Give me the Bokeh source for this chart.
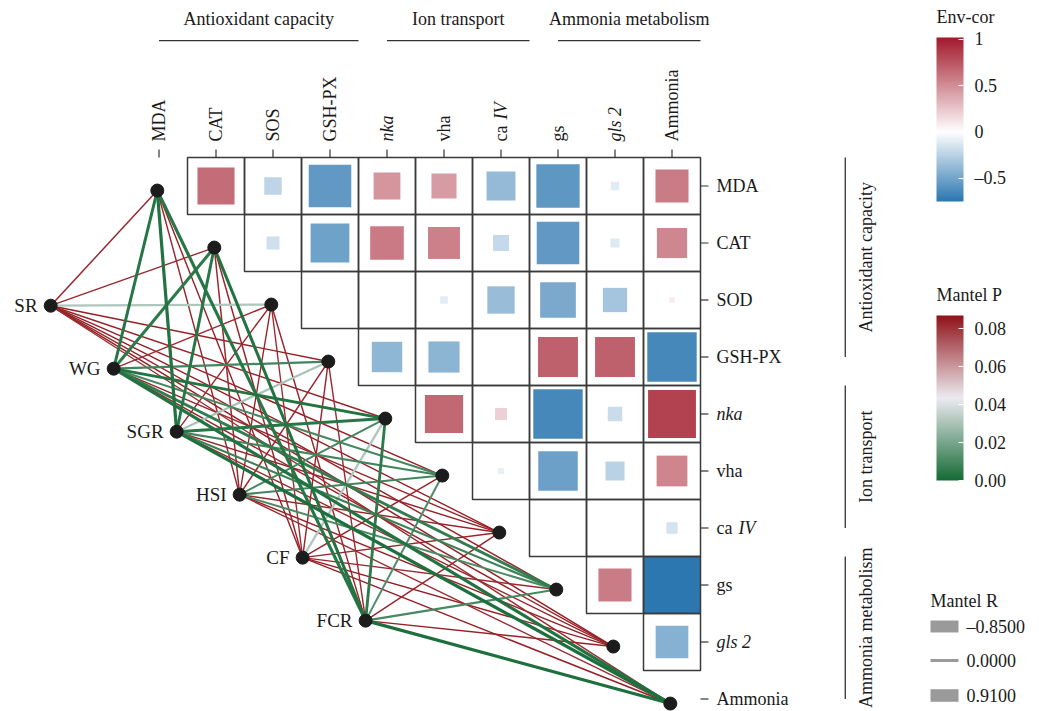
import numpy as np
from bokeh.plotting import figure
from bokeh.models import (Range1d, ColumnDataSource, ColorBar, LinearColorMapper, FixedTicker,
                          CustomJSTickFormatter, PrintfTickFormatter)
from bokeh.transform import linear_cmap
from bokeh.core.properties import value
from bokeh.embed import file_html
from bokeh.resources import INLINE

FONT = "Liberation Serif"

# ---------------- data ----------------
col_labels = ["MDA", "CAT", "SOS", "GSH-PX", "nka", "vha", "ca IV", "gs", "gls 2", "Ammonia"]
row_labels = ["MDA", "CAT", "SOD", "GSH-PX", "nka", "vha", "ca IV", "gs", "gls 2", "Ammonia"]
label_italic = [False, False, False, False, True, False, None, False, True, False]  # None = "ca" + italic "IV"
env_labels = ["SR", "WG", "SGR", "HSI", "CF", "FCR"]
group_names = ["Antioxidant capacity", "Ion transport", "Ammonia metabolism"]
group_first = [0, 4, 7]
group_last = [3, 6, 9]

# upper-triangle correlations, row i holds columns i+1 .. 9
corr_rows = [
    [0.65, -0.23, -0.56, 0.47, 0.44, -0.38, -0.57, -0.11, 0.58],
    [-0.17, -0.51, 0.59, 0.56, -0.21, -0.56, -0.12, 0.53],
    [-0.02, -0.01, -0.10, -0.36, -0.47, -0.32, 0.09],
    [-0.40, -0.41, 0.00, 0.70, 0.70, -0.65],
    [0.67, 0.21, -0.65, -0.19, 0.84],
    [-0.08, -0.52, -0.25, 0.54],
    [0.00, 0.00, -0.15],
    [0.58, -0.75],
    [-0.43],
]

# Mantel test (rows = env, cols = row_labels order)
mantel_p = [
    [0.083, 0.082, 0.031, 0.084, 0.083, 0.084, 0.085, 0.083, 0.084, 0.082],  # SR
    [0.004, 0.005, 0.082, 0.009, 0.003, 0.010, 0.083, 0.006, 0.083, 0.003],  # WG
    [0.003, 0.004, 0.083, 0.030, 0.004, 0.009, 0.084, 0.008, 0.083, 0.002],  # SGR
    [0.083, 0.082, 0.084, 0.083, 0.010, 0.009, 0.083, 0.011, 0.084, 0.082],  # HSI
    [0.084, 0.083, 0.082, 0.083, 0.031, 0.083, 0.083, 0.082, 0.085, 0.084],  # CF
    [0.004, 0.003, 0.083, 0.082, 0.005, 0.012, 0.083, 0.010, 0.084, 0.002],  # FCR
]
mantel_r = [
    [0.12, 0.08, 0.48, 0.10, 0.15, 0.09, 0.06, 0.11, 0.13, 0.07],
    [0.78, 0.82, 0.11, 0.45, 0.71, 0.38, 0.08, 0.74, 0.12, 0.86],
    [0.88, 0.75, 0.09, 0.44, 0.80, 0.40, 0.10, 0.42, 0.07, 0.91],
    [0.10, 0.13, 0.06, 0.12, 0.36, 0.39, 0.09, 0.35, 0.11, 0.08],
    [0.09, 0.12, 0.07, 0.10, 0.46, 0.13, 0.08, 0.10, 0.06, 0.12],
    [-0.85, 0.79, 0.10, 0.09, 0.72, 0.37, 0.11, 0.36, 0.12, 0.84],
]
mantel_r_legend = [-0.85, 0.0, 0.91]

env_ticks = [-0.5, 0, 0.5, 1]
p_ticks = [0.00, 0.02, 0.04, 0.06, 0.08]

# ---------------- scales / layout ----------------
ENV_LOW, ENV_HIGH = -0.75, 1.02
P_LOW, P_HIGH = 0.0, 0.087
W0, W1 = 1.2, 2.3            # plot line width = W0 + W1*|r|
LW0, LW1 = 3.0, 10.5         # legend key width = LW0 + LW1*|r|
NODE_DX, NODE_DY = -0.03, -0.08
ENV_X0, ENV_Y0, ENV_STEP = -1.9, -2.1, 1.105
PX = 57.0
W, H = 1039, 711
X0PX, Y0PX = 158.5, 185.5


def hex2rgb(h):
    return tuple(int(h[i:i + 2], 16) for i in (1, 3, 5))


def make_palette(stops, low, high, n=256):
    vals = [s[0] for s in stops]
    cols = [hex2rgb(s[1]) for s in stops]
    out = []
    for k in range(n):
        v = low + (high - low) * (k + 0.5) / n
        rgb = [np.interp(v, vals, [c[i] for c in cols]) for i in range(3)]
        out.append("#%02x%02x%02x" % tuple(int(round(x)) for x in rgb))
    return out


def dx(px):  # screen px -> data x
    return (px - X0PX) / PX


def dy(py):  # screen py (from top) -> data y
    return (Y0PX - py) / PX


env_pal = make_palette([(ENV_LOW, "#2b76b0"), (0.0, "#ffffff"), (ENV_HIGH, "#a2192a")], ENV_LOW, ENV_HIGH)
p_pal = make_palette([(P_LOW, "#146a35"), (0.0435, "#ecebf0"), (P_HIGH, "#8f1218")], P_LOW, P_HIGH)

p = figure(width=W, height=H, output_backend="svg", toolbar_location=None,
           x_range=Range1d(dx(0), dx(W)), y_range=Range1d(dy(H), dy(0)),
           x_axis_location=None, y_axis_location=None, min_border=0,
           outline_line_color=None, background_fill_color="white")
p.grid.visible = False

# ---------------- edges ----------------
ex = [ENV_X0 + k * ENV_STEP for k in range(len(env_labels))]
ey = [ENV_Y0 - k * ENV_STEP for k in range(len(env_labels))]
vx = [j + NODE_DX for j in range(len(row_labels))]
vy = [-j + NODE_DY for j in range(len(row_labels))]
edges = []
for k in range(len(env_labels)):
    for j in range(len(row_labels)):
        edges.append((mantel_p[k][j], ex[k], ey[k], vx[j], vy[j], W0 + W1 * abs(mantel_r[k][j])))
edges.sort(key=lambda e: -e[0])
esrc = ColumnDataSource(dict(p=[e[0] for e in edges], x0=[e[1] for e in edges], y0=[e[2] for e in edges],
                             x1=[e[3] for e in edges], y1=[e[4] for e in edges], w=[e[5] for e in edges]))
p.segment("x0", "y0", "x1", "y1", source=esrc, line_width="w",
          line_color=linear_cmap("p", p_pal, P_LOW, P_HIGH))

# ---------------- correlation matrix ----------------
cx, cy, cr, cs = [], [], [], []
for i, row in enumerate(corr_rows):
    for k, r in enumerate(row):
        j = i + 1 + k
        cx.append(j); cy.append(-i); cr.append(r)
        lim = abs(ENV_LOW) if r < 0 else 1.0
        cs.append(min(abs(r) / lim, 1.0))
csrc = ColumnDataSource(dict(x=cx, y=cy, r=cr, s=cs))
p.rect("x", "y", width="s", height="s", source=csrc, line_color=None,
       fill_color=linear_cmap("r", env_pal, ENV_LOW, ENV_HIGH))
p.rect("x", "y", width=1, height=1, source=csrc, fill_color=None, line_color="#3a3a3a", line_width=1.5)

# ticks
n = len(row_labels)
p.segment(x0=list(range(n)), y0=[0.5] * n, x1=list(range(n)), y1=[0.64] * n, line_color="#333333", line_width=1.2)
p.segment(x0=[n - 0.5] * n, y0=[-i for i in range(n)], x1=[n - 0.36] * n, y1=[-i for i in range(n)],
          line_color="#333333", line_width=1.2)

# ---------------- nodes ----------------
p.scatter(vx, vy, size=13, color="#1c1c1c")
p.scatter(ex, ey, size=13, color="#1c1c1c")

# ---------------- labels ----------------
TXT = dict(text_font=value(FONT), text_font_size="18px", text_color="#1a1a1a")
CA_SHIFT = 22 / PX
for j, lab in enumerate(col_labels):
    it = label_italic[j]
    if it is None:
        a, b = lab.split(" ")
        p.text([j], [0.78], text=[a], angle=np.pi / 2, text_align="left", text_baseline="middle", **TXT)
        p.text([j], [0.78 + CA_SHIFT], text=[b], angle=np.pi / 2, text_align="left", text_baseline="middle",
               text_font_style="italic", **TXT)
    else:
        p.text([j], [0.78], text=[lab], angle=np.pi / 2, text_align="left", text_baseline="middle",
               text_font_style="italic" if it else "normal", **TXT)
for i, lab in enumerate(row_labels):
    it = label_italic[i]
    if it is None:
        a, b = lab.split(" ")
        p.text([n - 0.22], [-i], text=[a], text_align="left", text_baseline="middle", **TXT)
        p.text([n - 0.22 + CA_SHIFT], [-i], text=[b], text_align="left", text_baseline="middle",
               text_font_style="italic", **TXT)
    else:
        p.text([n - 0.22], [-i], text=[lab], text_align="left", text_baseline="middle",
               text_font_style="italic" if it else "normal", **TXT)

p.text([x - 0.23 for x in ex], ey, text=env_labels, text_align="right", text_baseline="middle",
       text_font=value(FONT), text_font_size="19px", text_color="#1a1a1a")

# group brackets (top and right)
gx0 = [float(f) for f in group_first]
gx1 = [l + 0.5 for l in group_last]
p.segment(x0=gx0, y0=[2.55] * 3, x1=gx1, y1=[2.55] * 3, line_color="#333333", line_width=1.3)
p.text([(a + b) / 2 for a, b in zip(gx0, gx1)], [2.93] * 3, text=group_names, text_align="center",
       text_baseline="middle", **TXT)
gy0 = [-(f - 0.5) for f in group_first]
gy1 = [-float(l) for l in group_last]
p.segment(x0=[12.04] * 3, y0=gy0, x1=[12.04] * 3, y1=gy1, line_color="#333333", line_width=1.3)
p.text([12.4] * 3, [(a + b) / 2 for a, b in zip(gy0, gy1)], text=group_names, angle=np.pi / 2,
       text_align="center", text_baseline="middle", **TXT)

# ---------------- colour bars ----------------
common_cb = dict(orientation="vertical", width=27, padding=0,
                 major_label_text_font=FONT, major_label_text_font_size="18px",
                 major_label_text_color="#1a1a1a", label_standoff=11, major_tick_line_color="white",
                 major_tick_in=5, major_tick_out=0, minor_tick_line_color=None, bar_line_color=None,
                 background_fill_color=None, border_line_color=None)
env_mapper = LinearColorMapper(palette=env_pal, low=ENV_LOW, high=ENV_HIGH)
cb1 = ColorBar(color_mapper=env_mapper, height=164, location=(936, H - 201),
               ticker=FixedTicker(ticks=env_ticks),
               formatter=CustomJSTickFormatter(code="return tick < 0 ? '\\u2013' + Math.abs(tick) : String(tick);"),
               **common_cb)
p.add_layout(cb1)
p_mapper = LinearColorMapper(palette=p_pal, low=P_LOW, high=P_HIGH)
cb2 = ColorBar(color_mapper=p_mapper, height=165, location=(936, H - 480),
               ticker=FixedTicker(ticks=p_ticks), formatter=PrintfTickFormatter(format="%.2f"), **common_cb)
p.add_layout(cb2)
p.text([dx(936), dx(936)], [dy(16), dy(294)], text=["Env-cor", "Mantel P"], text_align="left",
       text_baseline="middle", **TXT)

# ---------------- Mantel R legend (drawn keys) ----------------
leg_py = [626, 660, 695]
leg_y = [dy(v) for v in leg_py]
p.segment(x0=[dx(930)] * 3, y0=leg_y, x1=[dx(958)] * 3, y1=leg_y, line_color="#9a9a9a",
          line_width=[LW0 + LW1 * abs(v) for v in mantel_r_legend], line_cap="butt")
p.text([dx(966)] * 3, leg_y, text=[("%.4f" % v).replace("-", "\u2013") for v in mantel_r_legend],
       text_align="left", text_baseline="middle", **TXT)
p.text([dx(930)], [dy(600)], text=["Mantel R"], text_align="left", text_baseline="middle", **TXT)

open("out.html", "w").write(file_html(p, INLINE))
